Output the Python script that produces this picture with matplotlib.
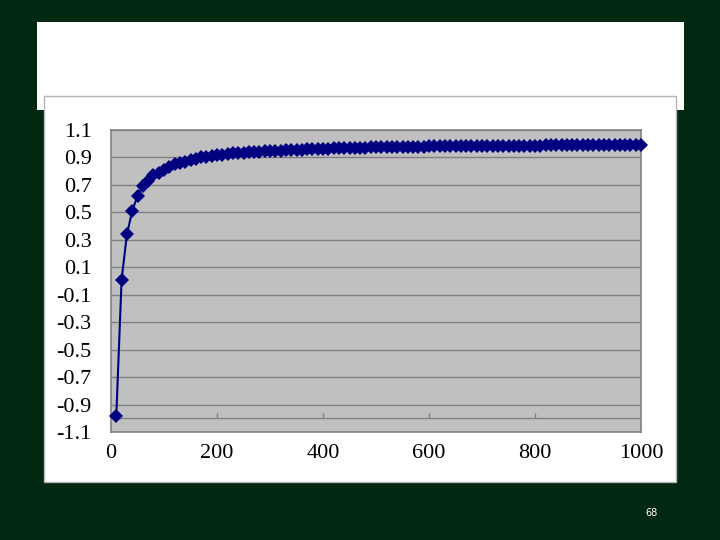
import matplotlib.pyplot as plt
from matplotlib.patches import Rectangle

# x positions (10, 20, ..., 1000)
x_values = list(range(10, 1001, 10))

# y values
y_values = [
    -0.98, 0.01, 0.34, 0.51, 0.62, 0.69, 0.73, 0.77, 0.79, 0.81,
    0.83, 0.85, 0.86, 0.87, 0.88, 0.89, 0.90, 0.905, 0.91, 0.915,
    0.92, 0.925, 0.93, 0.932, 0.935, 0.937, 0.94, 0.942, 0.944, 0.946,
    0.948, 0.95, 0.952, 0.954, 0.955, 0.957, 0.958, 0.96, 0.962, 0.963,
    0.964, 0.966, 0.967, 0.968, 0.969, 0.97, 0.971, 0.972, 0.973, 0.974,
    0.975, 0.976, 0.976, 0.977, 0.977, 0.978, 0.978, 0.979, 0.979, 0.980,
    0.980, 0.981, 0.981, 0.981, 0.982, 0.982, 0.982, 0.983, 0.983, 0.983,
    0.984, 0.984, 0.985, 0.986, 0.986, 0.986, 0.986, 0.987, 0.987, 0.987,
    0.987, 0.988, 0.988, 0.988, 0.988, 0.988, 0.989, 0.989, 0.989, 0.989,
    0.989, 0.990, 0.990, 0.990, 0.990, 0.990, 0.991, 0.991, 0.991, 0.991,
]

y_ticks = [-1.1, -0.9, -0.7, -0.5, -0.3, -0.1, 0.1, 0.3, 0.5, 0.7, 0.9, 1.1]
y_tick_labels = ["-1.1", "-0.9", "-0.7", "-0.5", "-0.3", "-0.1",
                 "0.1", "0.3", "0.5", "0.7", "0.9", "1.1"]
x_ticks = [0, 200, 400, 600, 800, 1000]
page_number = "68"

W, H = 720, 540
fig = plt.figure(figsize=(7.2, 5.4), dpi=100)
fig.patch.set_facecolor('#012810')

# white title box at the top of the slide
fig.patches.append(Rectangle((37 / W, 1 - 110 / H), 647 / W, 88 / H,
                             transform=fig.transFigure, facecolor='white',
                             edgecolor='none', zorder=-2))
# white chart area with a thin grey border
fig.patches.append(Rectangle((44 / W, 1 - 482 / H), 632 / W, 386 / H,
                             transform=fig.transFigure, facecolor='white',
                             edgecolor='#b4b4b4', linewidth=1, zorder=-1))

ax = fig.add_axes([111 / W, 1 - 432 / H, 530 / W, 302 / H])
ax.set_zorder(1)
ax.set_facecolor('#c0c0c0')
ax.set_xlim(0, 1000)
ax.set_ylim(-1.1, 1.1)

for s in ax.spines.values():
    s.set_color('#808080')
    s.set_linewidth(1.2)

ax.set_yticks(y_ticks)
ax.set_yticklabels(y_tick_labels)
ax.set_xticks(x_ticks)
ax.tick_params(axis='both', length=0, labelsize=16, colors='black')
ax.tick_params(axis='y', pad=14)
ax.tick_params(axis='x', pad=9)
for lab in ax.get_xticklabels() + ax.get_yticklabels():
    lab.set_family('Liberation Serif')

# horizontal gridlines
ax.grid(axis='y', color='#808080', linewidth=1)
ax.grid(axis='x', visible=False)

# category axis crossing at y = -1 with small upward tick marks
ax.axhline(-1.0, color='#808080', linewidth=1)
ax.vlines(x_ticks[1:-1], -1.0, -0.96, color='#808080', linewidth=1)

ax.plot(x_values, y_values, color='#000080', linewidth=1.5,
        marker='D', markersize=7, markeredgewidth=0, zorder=3, clip_on=False)

fig.text(652 / W, 1 - 513 / H, page_number, color='white', fontsize=7,
         ha='center', va='center')

fig.savefig('out.png', dpi=100, facecolor=fig.get_facecolor())
